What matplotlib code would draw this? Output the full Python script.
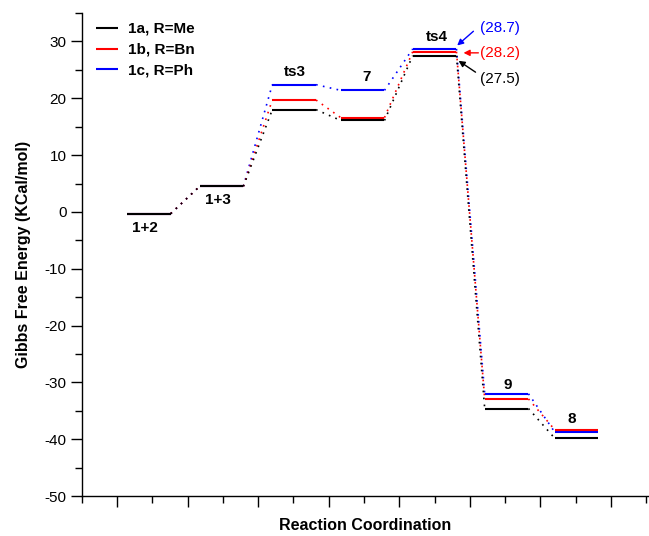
import matplotlib
matplotlib.use("Agg")
import matplotlib.pyplot as plt
from matplotlib.ticker import MultipleLocator, NullFormatter

plt.rcParams.update({
    "font.family": ["Liberation Sans", "DejaVu Sans"],
    "font.size": 11,
    "axes.linewidth": 1.0,
    "axes.unicode_minus": False,
})

# species along the reaction coordinate
species = ["1+2", "1+3", "ts3", "7", "ts4", "9", "8"]
x_start = [1.14, 2.17, 3.20, 4.17, 5.19, 6.21, 7.20]
level_w = 0.62

# Gibbs free energies (kcal/mol)
g_me = [-0.3, 4.5, 18.0, 16.1, 27.5, -34.6, -39.8]
g_bn = [-0.3, 4.5, 19.7, 16.6, 28.2, -32.9, -38.3]
g_ph = [-0.3, 4.5, 22.4, 21.4, 28.7, -32.0, -38.7]

series = [
    ("1c, R=Ph", g_ph, "#0000ff"),
    ("1b, R=Bn", g_bn, "#ff0000"),
    ("1a, R=Me", g_me, "black"),
]

# label positions for each species (x, y)
lab_x = [1.39, 2.43, 3.52, 4.53, 5.53, 6.53, 7.44]
lab_y = [-2.8, 2.1, 24.6, 23.8, 30.8, -30.5, -36.4]

fig = plt.figure(figsize=(6.49, 5.36), dpi=100)
ax = fig.add_axes([0.126, 0.0746, 0.872, 0.901])

handles = {}
for name, g, c in series:
    for i, (xs, e) in enumerate(zip(x_start, g)):
        ln, = ax.plot([xs, xs + level_w], [e, e], color=c, lw=1.5,
                      solid_capstyle="butt")
        if i + 1 < len(g):
            ax.plot([xs + level_w, x_start[i + 1]], [e, g[i + 1]], color=c,
                    lw=1.2, linestyle=(0, (1, 3.2)))
    handles[name] = ln

for s, lx, ly in zip(species, lab_x, lab_y):
    ax.text(lx, ly, s, ha="center", va="center", fontsize=11, fontweight="bold")

# ts4 value callouts
ts4_end = x_start[4] + level_w
ax.annotate("", xy=(ts4_end + 0.01, 29.3), xytext=(6.05, 31.8),
            arrowprops=dict(arrowstyle="-|>", color="#0000ff", lw=1.0,
                            mutation_scale=9, shrinkA=0, shrinkB=0))
ax.text(6.15, 32.4, "(28.7)", color="#0000ff", ha="left", va="center", fontsize=11)
ax.annotate("", xy=(ts4_end + 0.1, 28.0), xytext=(6.12, 28.0),
            arrowprops=dict(arrowstyle="-|>", color="#ff0000", lw=1.0,
                            mutation_scale=9, shrinkA=0, shrinkB=0))
ax.text(6.15, 28.0, "(28.2)", color="#ff0000", ha="left", va="center", fontsize=11)
ax.annotate("", xy=(ts4_end + 0.03, 26.6), xytext=(6.08, 24.6),
            arrowprops=dict(arrowstyle="-|>", color="black", lw=1.0,
                            mutation_scale=9, shrinkA=0, shrinkB=0))
ax.text(6.15, 23.4, "(27.5)", color="black", ha="left", va="center", fontsize=11)

order = ["1a, R=Me", "1b, R=Bn", "1c, R=Ph"]
ax.legend([handles[k] for k in order], order, loc="upper left",
          bbox_to_anchor=(0.0, 1.01), frameon=False, handlelength=1.5,
          handletextpad=0.6, labelspacing=0.45,
          prop={"weight": "bold", "size": 11})

ax.set_xlim(0.5, 8.52)
ax.set_ylim(-50, 35)
ax.xaxis.set_major_locator(MultipleLocator(1))
ax.xaxis.set_minor_locator(MultipleLocator(0.5))
ax.xaxis.set_major_formatter(NullFormatter())
ax.yaxis.set_major_locator(MultipleLocator(10))
ax.yaxis.set_minor_locator(MultipleLocator(5))
ax.tick_params(which="major", direction="out", length=8, width=1.0)
ax.tick_params(which="minor", direction="out", length=5, width=1.0)
ax.tick_params(axis="y", labelsize=11, pad=3)
ax.spines["top"].set_visible(False)
ax.spines["right"].set_visible(False)

ax.set_xlabel("Reaction Coordination", fontsize=11.5, fontweight="bold")
ax.xaxis.set_label_coords(0.5, -0.046)
ax.set_ylabel("Gibbs Free Energy (KCal/mol)", fontsize=11.5, fontweight="bold", labelpad=10)

fig.savefig("out.png", dpi=100)
